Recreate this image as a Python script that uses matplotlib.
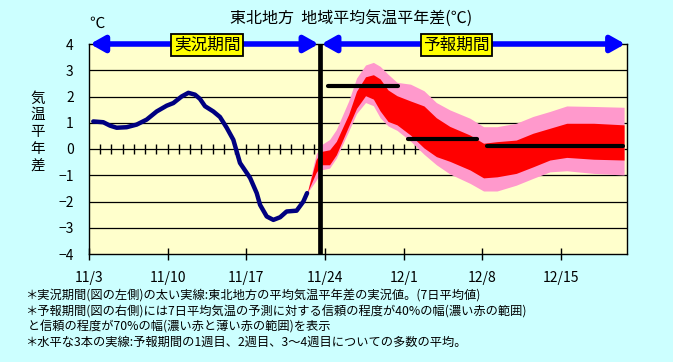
import matplotlib
matplotlib.use('Agg')
import matplotlib.pyplot as plt
import numpy as np

plt.rcParams['font.family'] = ['Noto Sans CJK JP', 'DejaVu Sans']
plt.rcParams['axes.unicode_minus'] = True

# ---- data (days counted from 11/3) ----
obs_days = [0.38, 1.27, 1.87, 2.46, 3.35, 4.24, 5.13, 6.02, 6.91, 7.5, 8.24, 8.84, 9.43,
            9.87, 10.32, 11.06, 11.65, 12.25, 12.84, 13.43, 14.33, 14.92, 15.22, 15.81,
            16.4, 17.0, 17.58, 18.47, 19.07, 19.4]
obs_vals = [1.05, 1.02, 0.89, 0.81, 0.83, 0.93, 1.12, 1.43, 1.65, 1.75, 2.0, 2.14, 2.07,
            1.91, 1.63, 1.43, 1.22, 0.81, 0.35, -0.53, -1.1, -1.68, -2.13, -2.57,
            -2.7, -2.6, -2.38, -2.35, -2.0, -1.68]

fc_days = [19.4, 20.2, 20.7, 21.4, 22.0, 23.1, 23.8, 24.6, 25.3, 25.9, 26.6, 27.4, 28.6,
           29.8, 30.9, 32.1, 33.9, 35.1, 36.3, 38.0, 39.5, 41.0, 42.5, 44.9, 47.6]
p70_hi = [-1.68, -0.2, 0.17, 0.36, 0.74, 1.83, 2.7, 3.2, 3.3, 3.15, 2.85, 2.54, 2.47,
          2.22, 1.77, 1.49, 1.17, 0.85, 0.85, 0.98, 1.24, 1.43, 1.64, 1.62, 1.59]
p40_hi = [-1.68, -0.4, -0.09, -0.03, 0.29, 1.32, 2.2, 2.75, 2.83, 2.67, 2.25, 2.03, 1.83,
          1.64, 1.19, 0.86, 0.53, 0.22, 0.28, 0.34, 0.6, 0.79, 0.98, 0.98, 0.92]
p40_lo = [-1.68, -0.9, -0.6, -0.6, -0.22, 0.87, 1.55, 2.03, 1.9, 1.45, 1.05, 0.92, 0.53,
          0.04, -0.29, -0.47, -0.8, -1.1, -1.06, -0.93, -0.68, -0.42, -0.32, -0.39, -0.42]
p70_lo = [-1.68, -1.2, -0.79, -0.73, -0.35, 0.68, 1.35, 1.77, 1.65, 1.19, 0.88, 0.71, 0.3,
          -0.2, -0.6, -0.95, -1.31, -1.6, -1.6, -1.38, -1.12, -0.87, -0.83, -0.93, -0.99]

wk_start = [21.3, 28.4, 35.4]
wk_end = [27.5, 34.5, 47.5]
wk_val = [2.4, 0.4, 0.1]

split_day = 20.55
xtick_days = [0, 7, 14, 21, 28, 35, 42]
xtick_labels = ['11/3', '11/10', '11/17', '11/24', '12/1', '12/8', '12/15']
yticks = [4, 3, 2, 1, 0, -1, -2, -3, -4]
day_marks = list(range(1, 30))

title = '東北地方  地域平均気温平年差(℃)'
notes = [
    '＊実況期間(図の左側)の太い実線:東北地方の平均気温平年差の実況値。(7日平均値)',
    '＊予報期間(図の右側)には7日平均気温の予測に対する信頼の程度が40%の幅(濃い赤の範囲)',
    ' と信頼の程度が70%の幅(濃い赤と薄い赤の範囲)を表示',
    '＊水平な3本の実線:予報期間の1週目、2週目、3～4週目についての多数の平均。',
]

W, H = 673, 362
fig = plt.figure(figsize=(W / 100, H / 100), dpi=100)
fig.patch.set_facecolor('#CCFFFF')
ax = fig.add_axes([89 / W, 1 - 254 / H, 538 / W, 210 / H])
ax.set_facecolor('#FFFFCC')
ax.set_xlim(0, 47.86)
ax.set_ylim(-4, 4)

for y in yticks[1:-1]:
    ax.axhline(y, color='black', lw=0.9, zorder=1)
ax.plot(day_marks, [0] * len(day_marks), linestyle='none', marker='|', ms=7,
        mew=1.0, color='black', zorder=1)

ax.fill_between(fc_days, p70_lo, p70_hi, color='#FF99CC', lw=0, zorder=2)
ax.fill_between(fc_days, p40_lo, p40_hi, color='#FF0000', lw=0, zorder=3)

ax.plot(obs_days, obs_vals, color='#000080', lw=3.2, solid_capstyle='round', zorder=5)
ax.hlines(wk_val, wk_start, wk_end, color='black', lw=3, zorder=4, capstyle='round')
ax.axvline(split_day, color='black', lw=3.4, zorder=6)

for spine in ax.spines.values():
    spine.set_color('black')
    spine.set_linewidth(1.0)

ax.set_xticks(xtick_days)
ax.set_xticklabels(xtick_labels, fontsize=10)
ax.set_yticks(yticks)
ax.set_yticklabels([str(v).replace('-', '\u2212') for v in yticks], fontsize=10)
ax.tick_params(axis='x', direction='inout', length=9, width=1, pad=8, colors='black')
ax.tick_params(axis='y', length=0, pad=11)

arrow_kw = dict(arrowstyle='<|-|>,head_length=0.8,head_width=0.45', color='#0000FF',
                lw=4, shrinkA=0, shrinkB=0, mutation_scale=10.5)
ax.annotate('', xy=(0.1, 4), xytext=(split_day - 0.12, 4), arrowprops=arrow_kw,
            annotation_clip=False, zorder=7)
ax.annotate('', xy=(split_day + 0.12, 4), xytext=(47.7, 4), arrowprops=arrow_kw,
            annotation_clip=False, zorder=7)

box = dict(boxstyle='square,pad=0.15', fc='#FFFF00', ec='black', lw=1.3)
ax.text(10.5, 3.95, '実況期間', ha='center', va='center', fontsize=12, bbox=box,
        zorder=8, clip_on=False)
ax.text(32.7, 3.95, '予報期間', ha='center', va='center', fontsize=12, bbox=box,
        zorder=8, clip_on=False)

fig.text(351 / W, 1 - 18 / H, title, ha='center', va='center', fontsize=11.5)
fig.text(97 / W, 1 - 23 / H, '℃', ha='center', va='center', fontsize=11)
fig.text(38 / W, 1 - 132 / H, '\n'.join('気温平年差'), ha='center', va='center',
         fontsize=10.5, linespacing=1.25)

for i, (line, yy) in enumerate(zip(notes, [295, 312, 327, 342])):
    fig.text(25 / W, 1 - yy / H, line, ha='left', va='center', fontsize=8.8)

fig.savefig('out.png', dpi=100, facecolor=fig.get_facecolor())
